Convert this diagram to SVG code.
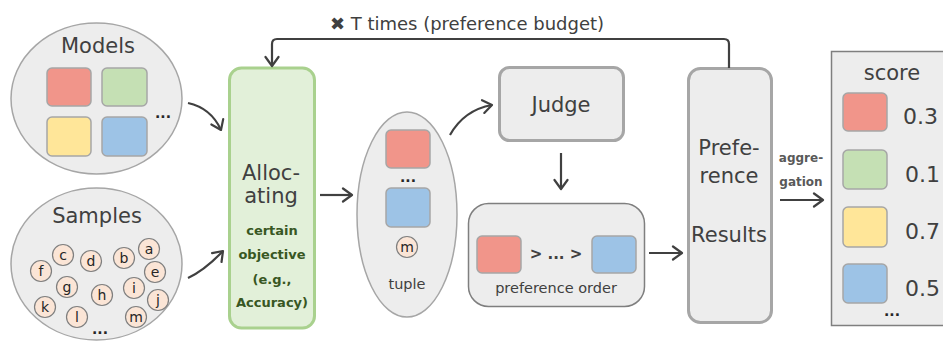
<svg xmlns="http://www.w3.org/2000/svg" width="943" height="343" viewBox="0 0 943 343">
  <style>
    text { font-family: "DejaVu Sans", "Liberation Sans", sans-serif; fill: #404040; }
    .big { font-size: 21px; text-anchor: middle; }
    .mid { font-size: 14.5px; text-anchor: middle; }
    .obj { font-size: 13px; font-weight: bold; fill: #385723; text-anchor: middle; }
    .agg { font-size: 12px; font-weight: bold; fill: #595959; text-anchor: middle; }
    .num { font-size: 22px; }
    .letter { font-size: 14px; text-anchor: middle; fill: #262626; }
    .dots { font-size: 14px; font-weight: bold; text-anchor: middle; fill: #262626; }
    .cloud { fill: #EDEDED; stroke: #A6A6A6; stroke-width: 1.5; }
    .panel { fill: #EDEDED; stroke: #A6A6A6; stroke-width: 3; }
    .thin { fill: #EDEDED; stroke: #7F7F7F; stroke-width: 1.5; }
    .red { fill: #F1958A; stroke: #A6A6A6; stroke-width: 1.5; }
    .green { fill: #C5E0B4; stroke: #A6A6A6; stroke-width: 1.5; }
    .yellow { fill: #FFE699; stroke: #A6A6A6; stroke-width: 1.5; }
    .blue { fill: #9DC3E6; stroke: #A6A6A6; stroke-width: 1.5; }
    .dot { fill: #FBE5D6; stroke: #7F7F7F; stroke-width: 1.2; }
    .edge { fill: none; stroke: #404040; stroke-width: 2.2; marker-end: url(#head); }
  </style>
  <defs>
    <marker id="head" markerUnits="userSpaceOnUse" markerWidth="14" markerHeight="16" refX="11" refY="8" orient="auto">
      <path d="M2,1.5 L11,8 L2,14.5" fill="none" stroke="#404040" stroke-width="2.2" stroke-linejoin="round" stroke-linecap="round"/>
    </marker>
  </defs>

  <!-- model pool -->
  <g id="models">
    <ellipse class="cloud" cx="96.5" cy="98.5" rx="85.5" ry="75.5"/>
    <text class="big" x="98" y="53">Models</text>
    <rect class="red" x="47" y="68" width="44" height="38" rx="5"/>
    <rect class="green" x="102" y="68" width="45" height="38" rx="5"/>
    <rect class="yellow" x="47" y="117" width="44" height="39" rx="5"/>
    <rect class="blue" x="102" y="117" width="45" height="39" rx="5"/>
    <text class="dots" x="163" y="118">...</text>
  </g>

  <!-- sample pool -->
  <g id="samples">
    <ellipse class="cloud" cx="96.5" cy="264" rx="85.5" ry="76"/>
    <text class="big" x="97" y="223">Samples</text>
    <g>
      <circle class="dot" cx="63" cy="255" r="10.5"/><text class="letter" x="63" y="259.5">c</text>
      <circle class="dot" cx="91" cy="261" r="10.5"/><text class="letter" x="91" y="265.5">d</text>
      <circle class="dot" cx="124" cy="258" r="10.5"/><text class="letter" x="124" y="262.5">b</text>
      <circle class="dot" cx="149" cy="249" r="10.5"/><text class="letter" x="149" y="253.5">a</text>
      <circle class="dot" cx="155" cy="272" r="10.5"/><text class="letter" x="155" y="276.5">e</text>
      <circle class="dot" cx="41" cy="271" r="10.5"/><text class="letter" x="41" y="275.5">f</text>
      <circle class="dot" cx="67" cy="287" r="10.5"/><text class="letter" x="67" y="291.5">g</text>
      <circle class="dot" cx="102" cy="295" r="10.5"/><text class="letter" x="102" y="299.5">h</text>
      <circle class="dot" cx="134" cy="288" r="10.5"/><text class="letter" x="134" y="292.5">i</text>
      <circle class="dot" cx="158" cy="300" r="10.5"/><text class="letter" x="158" y="304.5">j</text>
      <circle class="dot" cx="45" cy="307" r="10.5"/><text class="letter" x="45" y="311.5">k</text>
      <circle class="dot" cx="77" cy="317" r="10.5"/><text class="letter" x="77" y="321.5">l</text>
      <circle class="dot" cx="136" cy="317" r="10.5"/><text class="letter" x="136" y="321.5">m</text>
    </g>
    <text class="dots" x="100" y="334">...</text>
  </g>

  <!-- allocator -->
  <g id="allocating">
    <rect x="229.5" y="68" width="85" height="260" rx="12" fill="#E2F0D9" stroke="#A9D18E" stroke-width="3"/>
    <text class="big" x="271" y="180">Alloc-</text>
    <text class="big" x="271" y="203">ating</text>
    <text class="obj" x="272" y="235">certain</text>
    <text class="obj" x="272" y="259">objective</text>
    <text class="obj" x="272" y="284">(e.g.,</text>
    <text class="obj" x="272" y="307">Accuracy)</text>
  </g>

  <!-- sampled tuple -->
  <g id="tuple">
    <ellipse class="cloud" cx="407" cy="214.5" rx="50" ry="102.5"/>
    <rect class="red" x="386" y="130" width="44" height="38" rx="5"/>
    <text class="dots" x="408" y="182">...</text>
    <rect class="blue" x="386" y="188" width="44" height="39" rx="5"/>
    <circle class="dot" cx="407" cy="247" r="10.5"/><text class="letter" x="407" y="251.5">m</text>
    <text class="mid" x="407" y="289">tuple</text>
  </g>

  <!-- judge -->
  <g id="judge">
    <rect class="panel" x="499.5" y="67.5" width="124" height="73" rx="10"/>
    <text class="big" x="561" y="112">Judge</text>
  </g>

  <!-- preference order -->
  <g id="preference-order">
    <rect class="thin" x="468.5" y="203.5" width="176" height="103" rx="20"/>
    <rect class="red" x="477" y="236" width="44" height="37" rx="5"/>
    <rect class="blue" x="592" y="236" width="44" height="37" rx="5"/>
    <text x="556" y="259" font-size="15" font-weight="bold" text-anchor="middle" fill="#262626">&gt; ... &gt;</text>
    <text class="mid" x="556" y="293">preference order</text>
  </g>

  <!-- preference results -->
  <g id="preference-results">
    <rect class="panel" x="688.5" y="68.5" width="83" height="254" rx="12"/>
    <text class="big" x="729" y="155">Prefe-</text>
    <text class="big" x="729" y="183">rence</text>
    <text class="big" x="729" y="242">Results</text>
  </g>

  <!-- scoreboard -->
  <g id="score">
    <rect class="thin" x="831.5" y="51.5" width="115" height="274"/>
    <text class="big" x="892" y="80" font-size="20">score</text>
    <rect class="red" x="843" y="93" width="44" height="38" rx="5"/>
    <rect class="green" x="843" y="150" width="44" height="39" rx="5"/>
    <rect class="yellow" x="843" y="207" width="44" height="40" rx="5"/>
    <rect class="blue" x="843" y="264" width="44" height="39" rx="5"/>
    <text class="num" x="903" y="124">0.3</text>
    <text class="num" x="905" y="182">0.1</text>
    <text class="num" x="905" y="239">0.7</text>
    <text class="num" x="905" y="296">0.5</text>
    <text class="dots" x="892" y="316">...</text>
  </g>

  <!-- connectors -->
  <g id="connectors">
    <path class="edge" d="M188,103 Q211,108 221,130"/>
    <path class="edge" d="M188,278 Q205,270 223,251"/>
    <path class="edge" d="M320,195 L352,195"/>
    <path class="edge" d="M450,135 Q464,110 492,105"/>
    <path class="edge" d="M561,153 L561,189"/>
    <path class="edge" d="M649,253 L682,253"/>
    <path class="edge" d="M780,200 L823,200"/>
    <path class="edge" d="M729,68 L729,44 Q729,39 724,39 L277,39 Q272,39 272,44 L272,66"/>
    <text x="467" y="30" font-size="18" text-anchor="middle">✖ T times (preference budget)</text>
    <text class="agg" x="801" y="162">aggre-</text>
    <text class="agg" x="801" y="186">gation</text>
  </g>
</svg>
